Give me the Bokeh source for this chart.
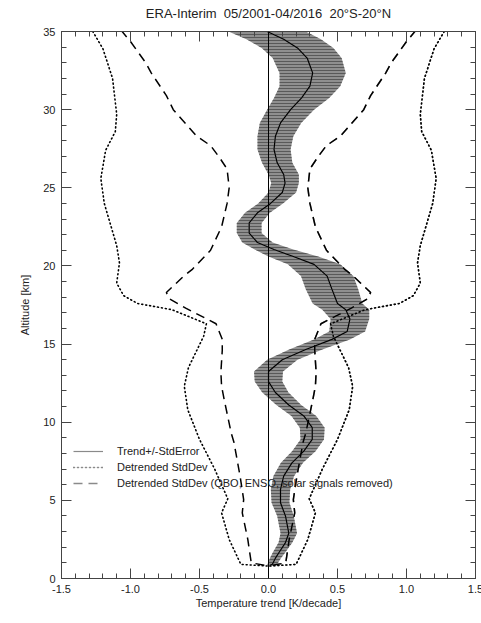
from bokeh.plotting import figure
from bokeh.models import (Legend, LegendItem, LinearAxis, FixedTicker, Span,
                          PrintfTickFormatter, Range1d, CustomLabelingPolicy)
from bokeh.embed import file_html
from bokeh.resources import INLINE

# ---- data ----
trend_alt = [0.85, 0.9, 1.3, 1.65, 2.3, 2.9, 4.0, 4.85, 5.7, 6.55, 7.4, 8.15, 8.9, 9.65,
             10.4, 11.1, 11.9, 12.6, 13.25, 14.0, 14.65, 15.3, 15.8, 16.6, 17.2, 17.6,
             18.5, 19.35, 20.1, 20.6, 21.05, 21.5, 22.1, 22.75, 23.4, 24.0, 24.7, 25.3,
             25.85, 26.6, 27.45, 28.3, 29.15, 30.0, 30.75, 31.5, 32.35, 33.3, 33.95,
             34.5, 35.0]
trend_val = [0.01, 0.027, 0.05, 0.075, 0.123, 0.147, 0.123, 0.087, 0.087, 0.11, 0.17,
             0.256, 0.317, 0.317, 0.256, 0.147, 0.05, 0.0, 0.0, 0.10, 0.27, 0.46, 0.57,
             0.59, 0.56, 0.50, 0.46, 0.425, 0.33, 0.18, 0.04, -0.08, -0.14, -0.14, -0.08,
             0.015, 0.10, 0.12, 0.11, 0.063, 0.04, 0.05, 0.087, 0.16, 0.24, 0.30, 0.32,
             0.28, 0.21, 0.11, -0.01]
trend_err = [0.03, 0.035, 0.04, 0.045, 0.05, 0.06, 0.06, 0.065, 0.07, 0.075, 0.08, 0.085,
             0.085, 0.09, 0.09, 0.09, 0.095, 0.10, 0.105, 0.11, 0.12, 0.13, 0.13, 0.14,
             0.17, 0.18, 0.19, 0.19, 0.19, 0.18, 0.14, 0.11, 0.09, 0.09, 0.09, 0.09, 0.10,
             0.10, 0.11, 0.11, 0.12, 0.13, 0.15, 0.17, 0.20, 0.22, 0.24, 0.25, 0.26, 0.27,
             0.28]

sd_alt = [0.8, 0.9, 2.5, 4.2, 5.1, 7.0, 8.9, 10.8, 12.3, 13.5, 15.5, 16.3, 17.2, 17.6,
          18.1, 18.9, 20.2, 21.3, 22.2, 24.0, 25.6, 27.4, 28.6, 29.7, 32.0, 33.9, 35.1]
sd_val = [0.01, 0.20, 0.285, 0.34, 0.295, 0.39, 0.50, 0.585, 0.61, 0.58, 0.47, 0.45,
          0.70, 0.95, 1.05, 1.10, 1.08, 1.10, 1.13, 1.19, 1.215, 1.18, 1.11, 1.10, 1.13,
          1.20, 1.28]

sdr_alt = [0.85, 1.0, 2.5, 4.2, 5.05, 6.5, 8.7, 9.3, 11.4, 12.3, 13.2, 14.6, 15.3, 16.3,
           17.3, 17.9, 18.3, 19.3, 19.8, 21.0, 22.5, 24.0, 25.0, 26.2, 27.0, 27.7, 28.3,
           28.9, 30.0, 30.9, 32.35, 33.0, 34.3, 35.1]
sdr_val = [0.03, 0.125, 0.15, 0.19, 0.18, 0.205, 0.25, 0.27, 0.32, 0.34, 0.345, 0.335,
           0.335, 0.38, 0.60, 0.72, 0.74, 0.62, 0.55, 0.42, 0.34, 0.30, 0.285, 0.30,
           0.36, 0.42, 0.52, 0.58, 0.69, 0.74, 0.85, 0.89, 0.995, 1.07]

x_ticks = [-1.5, -1.0, -0.5, 0.0, 0.5, 1.0, 1.5]
y_ticks = [0, 5, 10, 15, 20, 25, 30, 35]
TITLE = "ERA-Interim\u00a0\u00a005/2001-04/2016\u00a0\u00a020\u00b0S-20\u00b0N"

FONT = "Liberation Sans"
TXT = "#222222"
AX = "#444444"
LEG = "#8a8a8a"

p = figure(frame_width=414, frame_height=547, x_range=Range1d(-1.5, 1.5),
           y_range=Range1d(0, 35), output_backend="svg", toolbar_location=None,
           min_border_left=53, min_border_right=0, min_border_top=0,
           min_border_bottom=36, background_fill_color="white",
           border_fill_color="white")
p.title = None
p.margin = (2, 0, 0, 8)
p.grid.visible = False
p.outline_line_color = AX
p.outline_line_width = 1

lo = [t - e for t, e in zip(trend_val, trend_err)]
hi = [t + e for t, e in zip(trend_val, trend_err)]
p.harea(y=trend_alt, x1=lo, x2=hi, fill_color="#8f8f8f", fill_alpha=1.0,
        hatch_pattern="horizontal_line", hatch_color="#2e2e2e", hatch_scale=3,
        hatch_weight=1, hatch_alpha=0.55)

p.add_layout(Span(location=0, dimension="height", line_color="black", line_width=1))

# gray copies underneath (used only for the legend samples)
lg2 = p.line(sd_val, sd_alt, line_color=LEG, line_width=1.6, line_dash="1 3",
             line_cap="round")
lg3 = p.line(sdr_val, sdr_alt, line_color=LEG, line_width=1.5, line_dash="9 6")
lg1 = p.line(trend_val, trend_alt, line_color=LEG, line_width=1.2)

p.line([-v for v in sd_val], sd_alt, line_color="black", line_width=1.6,
       line_dash="1 3", line_cap="round")
p.line(sd_val, sd_alt, line_color="black", line_width=1.6, line_dash="1 3",
       line_cap="round")
p.line([-v for v in sdr_val], sdr_alt, line_color="black", line_width=1.5,
       line_dash="9 6")
p.line(sdr_val, sdr_alt, line_color="black", line_width=1.5, line_dash="9 6")
p.line(trend_val, trend_alt, line_color="black", line_width=1.2)

legend = Legend(items=[
    LegendItem(label="Trend+/-StdError", renderers=[lg1]),
    LegendItem(label="Detrended StdDev", renderers=[lg2]),
    LegendItem(label="Detrended StdDev (QBO, ENSO, solar signals removed)", renderers=[lg3]),
], location=(12, 88), background_fill_alpha=0, border_line_alpha=0,
    padding=0, margin=0, spacing=2, glyph_width=30, glyph_height=14,
    label_height=14, label_standoff=14, label_text_font=FONT,
    label_text_font_size="11px", label_text_color=TXT)
p.add_layout(legend)


def style_axis(ax):
    ax.axis_line_color = AX
    ax.major_tick_line_color = AX
    ax.minor_tick_line_color = AX
    ax.major_tick_in = 10
    ax.major_tick_out = 0
    ax.minor_tick_in = 5
    ax.minor_tick_out = 0
    ax.major_label_text_font = FONT
    ax.major_label_text_font_size = "11px"
    ax.major_label_text_color = TXT
    ax.axis_label_text_font = FONT
    ax.axis_label_text_font_size = "11px"
    ax.axis_label_text_font_style = "normal"
    ax.axis_label_text_color = TXT


xt = FixedTicker(ticks=x_ticks, minor_ticks=[round(-1.5 + 0.1 * i, 2) for i in range(31)])
yt = FixedTicker(ticks=y_ticks, minor_ticks=list(range(0, 36)))

p.xaxis.ticker = xt
p.yaxis.ticker = yt
p.xaxis.formatter = PrintfTickFormatter(format="%.1f")
p.yaxis.formatter = PrintfTickFormatter(format="%d")
p.xaxis.axis_label = "Temperature trend [K/decade]"
p.yaxis.axis_label = "Altitude [km]"
style_axis(p.xaxis[0])
style_axis(p.yaxis[0])
p.xaxis.major_label_standoff = 6
p.yaxis.major_label_standoff = 6
p.xaxis.axis_label_standoff = 1
p.yaxis.axis_label_standoff = 9

top = LinearAxis(ticker=xt, major_label_policy=CustomLabelingPolicy(code="return []"))
style_axis(top)
top.major_label_standoff = 0
top.axis_label = TITLE
top.axis_label_text_font_size = "13px"
top.axis_label_standoff = 0
p.add_layout(top, "above")

right = LinearAxis(ticker=yt, major_label_policy=CustomLabelingPolicy(code="return []"))
style_axis(right)
right.major_label_standoff = 0
right.axis_label_standoff = 0
p.add_layout(right, "right")

open("out.html", "w").write(file_html(p, INLINE))
